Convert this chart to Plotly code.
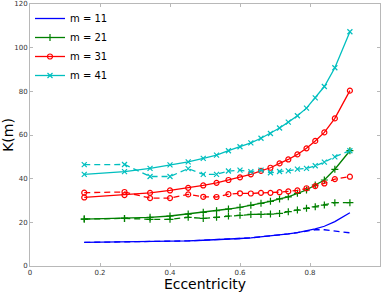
import plotly.graph_objects as go

ecc = [0.155, 0.27, 0.343, 0.40, 0.452, 0.495, 0.533, 0.567, 0.60, 0.631,
       0.66, 0.687, 0.713, 0.738, 0.764, 0.79, 0.815, 0.841, 0.871, 0.914]

m11_solid = [10.8, 11.0, 11.1, 11.3, 11.5, 11.8, 12.0, 12.3, 12.6, 12.9,
             13.3, 13.7, 14.2, 14.7, 15.3, 16.0, 17.0, 18.2, 20.3, 24.4]
m11_dash = [10.8, 11.0, 11.1, 11.3, 11.5, 11.8, 12.0, 12.3, 12.6, 12.9,
            13.3, 13.7, 14.2, 14.7, 15.3, 15.9, 16.6, 16.6, 16.1, 15.2]

m21_solid = [21.5, 21.8, 22.3, 22.9, 23.8, 24.6, 25.3, 26.1, 26.9, 27.8,
             28.7, 29.6, 30.7, 31.7, 33.3, 34.8, 37.1, 39.4, 44.3, 52.8]
m21_dash = [21.5, 21.8, 21.4, 21.4, 22.3, 21.8, 22.3, 22.9, 23.2, 23.6,
            23.6, 23.8, 24.1, 24.9, 25.6, 26.4, 27.1, 27.9, 29.0, 29.0]

m31_solid = [31.4, 32.5, 33.5, 34.6, 35.8, 36.9, 38.1, 39.4, 40.6, 42.0,
             43.6, 45.0, 47.0, 48.8, 51.1, 53.9, 57.3, 61.2, 67.6, 80.3]
m31_dash = [33.6, 33.9, 31.1, 31.1, 32.8, 31.7, 31.6, 32.9, 33.3, 33.2,
            33.5, 33.5, 33.8, 34.2, 34.6, 35.6, 36.6, 37.8, 39.8, 40.9]

m41_solid = [42.0, 43.2, 44.7, 46.3, 47.7, 49.3, 50.8, 52.8, 54.6, 56.4,
             58.5, 60.7, 63.2, 65.9, 68.8, 72.3, 77.0, 82.2, 90.8, 107.3]
m41_dash = [46.4, 46.5, 41.0, 41.0, 44.6, 42.0, 42.0, 43.5, 43.9, 43.2,
            43.9, 42.7, 43.3, 43.6, 44.4, 44.7, 45.9, 47.6, 50.0, 52.8]

labels = ["m = 11", "m = 21", "m = 31", "m = 41"]
xtick_vals = [0, 0.2, 0.4, 0.6, 0.8, 1.0]
xtick_text = ["0", "0.2", "0.4", "0.6", "0.8", "1"]
ytick_vals = [0, 20, 40, 60, 80, 100, 120]
ytick_text = ["0", "20", "40", "60", "80", "100", "120"]

colors = ["#0000ff", "#008000", "#ff0000", "#00bfbf"]
symbols = [None, "cross-thin-open", "circle-open", "x-thin-open"]
solids = [m11_solid, m21_solid, m31_solid, m41_solid]
dashes = [m11_dash, m21_dash, m31_dash, m41_dash]

fig = go.Figure()
for i in range(4):
    mode = "lines" if symbols[i] is None else "lines+markers"
    mk = dict(symbol=symbols[i] or "circle", size=5, color=colors[i],
              line=dict(width=1.2, color=colors[i]))
    fig.add_trace(go.Scatter(x=ecc, y=solids[i], mode=mode, name=labels[i],
                             line=dict(color=colors[i], width=1.3),
                             marker=mk, legendgroup=labels[i]))
for i in range(4):
    mode = "lines" if symbols[i] is None else "lines+markers"
    mk = dict(symbol=symbols[i] or "circle", size=5, color=colors[i],
              line=dict(width=1.2, color=colors[i]))
    fig.add_trace(go.Scatter(x=ecc, y=dashes[i], mode=mode, name=labels[i],
                             line=dict(color=colors[i], width=1.3, dash="6px,4px"),
                             marker=mk, legendgroup=labels[i], showlegend=False))

axis_common = dict(showline=True, linecolor="#b8b8b8", linewidth=1, mirror="ticks",
                   ticks="inside", ticklen=3, tickcolor="#b8b8b8", showgrid=False,
                   zeroline=False, automargin=False,
                   tickfont=dict(family="DejaVu Sans", size=7, color="#333333"))

fig.update_layout(
    width=382, height=292,
    margin=dict(l=30, r=2, t=4, b=26),
    paper_bgcolor="white", plot_bgcolor="white",
    font=dict(family="DejaVu Sans", color="black"),
    xaxis=dict(range=[0, 1], tickvals=xtick_vals, ticktext=xtick_text,
               title=dict(text="Eccentricity", font=dict(size=14), standoff=3),
               **axis_common),
    yaxis=dict(range=[0, 120], tickvals=ytick_vals, ticktext=ytick_text,
               title=dict(text="K(m)", font=dict(size=14), standoff=4),
               **axis_common),
    legend=dict(x=0.0, y=1.0, xanchor="left", yanchor="top",
                bgcolor="rgba(255,255,255,0)", font=dict(size=10),
                tracegroupgap=0, itemwidth=30),
    showlegend=True,
)

fig.write_html("out.html", config={"displayModeBar": False},
               post_script="document.body.style.margin='0';document.body.style.overflow='hidden';")
